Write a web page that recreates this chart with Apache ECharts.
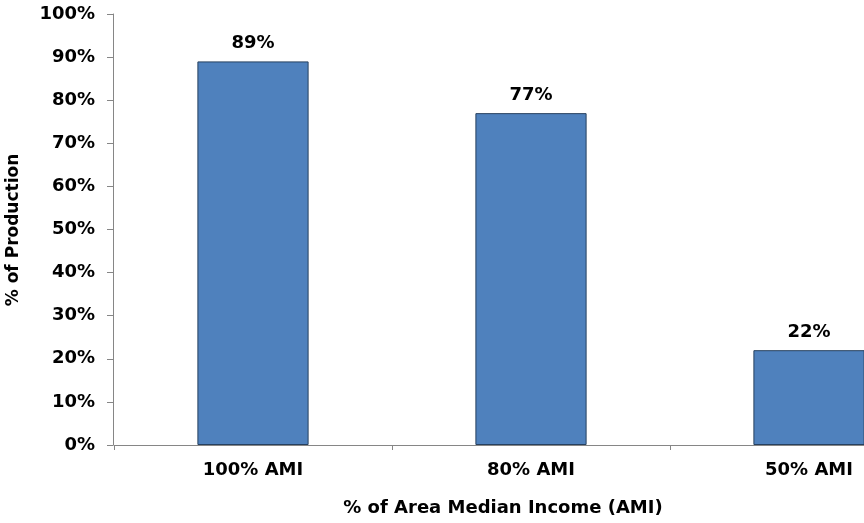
<!DOCTYPE html>
<html>
<head>
<meta charset="utf-8">
<script src="https://cdn.jsdelivr.net/npm/echarts@6/dist/echarts.min.js"></script>
<style>
html,body{margin:0;padding:0;background:#fff;overflow:hidden;width:864px;height:523px;}
#chart{width:960px;height:523px;}
</style>
</head>
<body>
<div id="chart"></div>
<script>
const categories = ['100% AMI', '80% AMI', '50% AMI'];
const values = [89, 77, 22];
const yTicks = { min: 0, max: 100, interval: 10 };
const xTitle = '% of Area Median Income (AMI)';
const yTitle = '% of Production';

const font = 'DejaVu Sans';
const chart = echarts.init(document.getElementById('chart'), null, { renderer: 'canvas' });
chart.setOption({
  animation: false,
  backgroundColor: '#ffffff',
  grid: { left: 114, top: 14, width: 834, bottom: 78, containLabel: false },
  xAxis: {
    type: 'category',
    data: categories,
    boundaryGap: true,
    axisLine: { lineStyle: { color: '#868686', width: 1 } },
    axisTick: { show: true, length: 5, lineStyle: { color: '#868686' } },
    axisLabel: { margin: 16, color: '#000', fontFamily: font, fontWeight: 'bold', fontSize: 18 },
    splitLine: { show: false }
  },
  yAxis: {
    type: 'value',
    offset: 1,
    min: yTicks.min, max: yTicks.max, interval: yTicks.interval,
    axisLine: { show: true, lineStyle: { color: '#868686', width: 1 } },
    axisTick: { show: true, length: 6, lineStyle: { color: '#868686' } },
    axisLabel: { margin: 18, color: '#000', fontFamily: font, fontWeight: 'bold', fontSize: 18, formatter: '{value}%' },
    splitLine: { show: false }
  },
  series: [{
    type: 'bar',
    data: values,
    barWidth: '40%',
    itemStyle: { color: '#4f81bd', borderColor: '#26405f', borderWidth: 1 },
    label: {
      show: true, position: 'top', distance: 9,
      formatter: '{c}%', color: '#000', fontFamily: font, fontWeight: 'bold', fontSize: 18
    }
  }],
  graphic: [
    {
      type: 'text', x: 503, y: 508,
      style: { text: xTitle, fill: '#000', font: 'bold 18px "DejaVu Sans"', align: 'center', verticalAlign: 'middle' }
    },
    {
      type: 'text', x: 14, y: 230, rotation: Math.PI / 2,
      style: { text: yTitle, fill: '#000', font: 'bold 17px "DejaVu Sans"', align: 'center', verticalAlign: 'middle' }
    }
  ]
});
</script>
</body>
</html>
